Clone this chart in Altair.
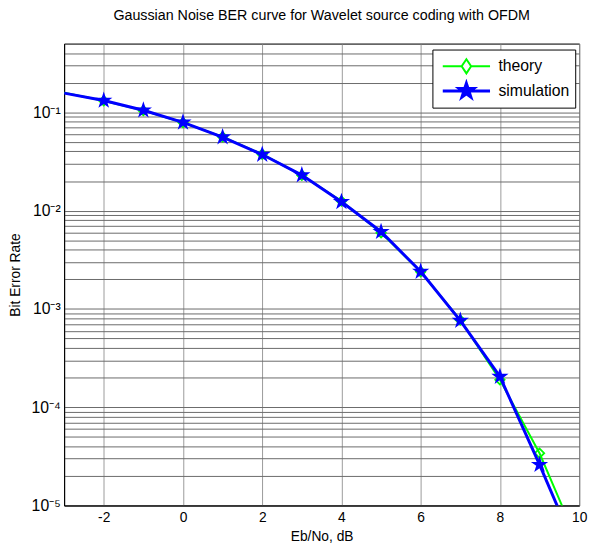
import altair as alt
import pandas as pd

# ---------------- data ----------------
ebno_db = [-3, -2, -1, 0, 1, 2, 3, 4, 5, 6, 7, 8, 9, 10]
ber_theory = [0.158, 0.131, 0.104, 0.0786, 0.0563, 0.0375, 0.0229, 0.0125,
              0.00595, 0.00239, 0.00077, 0.00019, 3.4e-5, 3.9e-6]
ber_simulation = [0.157, 0.132, 0.105, 0.0790, 0.0560, 0.0372, 0.0230, 0.0123,
                  0.0061, 0.0024, 0.00076, 0.000205, 2.6e-5, 3.0e-6]
series_names = ["theory", "simulation"]
marker_x_min, marker_x_max = -2, 9

x_tick_values = [-2, 0, 2, 4, 6, 8, 10]
y_decades = [1e-5, 1e-4, 1e-3, 1e-2, 1e-1]
y_decade_labels = ["10⁻⁵", "10⁻⁴", "10⁻³", "10⁻²", "10⁻¹"]
y_top = 0.5

title_text = "Gaussian Noise BER curve for Wavelet source coding with OFDM"
x_title = "Eb/No, dB"
y_title = "Bit Error Rate"

# ---------------- styling ----------------
FONT = "Liberation Sans"
GREEN = "#00ff00"
BLUE = "#0000ff"
STAR = ("M0,-1L0.2245,-0.309L0.951,-0.309L0.363,0.118L0.588,0.809L0,0.382"
        "L-0.588,0.809L-0.363,0.118L-0.951,-0.309L-0.2245,-0.309Z")
LEG_THEORY = "M-1,0H-0.2M0.2,0H1M0,-0.3L0.2,0L0,0.3L-0.2,0Z"
LEG_SIM = ("M-1,0H1M0,-0.32L0.0718,-0.099L0.304,-0.099L0.116,0.038L0.188,0.259"
           "L0,0.122L-0.188,0.259L-0.116,0.038L-0.304,-0.099L-0.0718,-0.099Z")

df_theory = pd.DataFrame({"x": ebno_db, "ber": ber_theory, "series": "theory"})
df_sim = pd.DataFrame({"x": ebno_db, "ber": ber_simulation, "series": "simulation"})
df_all = pd.concat([df_theory, df_sim], ignore_index=True)

# y grid values: decades plus minor 2..9 multiples
y_grid = []
for d in y_decades:
    for m in range(1, 10):
        v = m * d
        if v <= y_top + 1e-12:
            y_grid.append(v)
label_expr = "".join(f"datum.value == {d} ? '{lab}' : " for d, lab in zip(y_decades, y_decade_labels)) + "''"

x_enc = alt.X(
    "x:Q",
    scale=alt.Scale(domain=[-3, 10], nice=False, zero=False),
    axis=alt.Axis(values=x_tick_values, labelExpr="'' + datum.value", title=x_title,
                  grid=True, gridColor="#9a9a9a",
                  gridWidth=1, ticks=False, labelPadding=5, titlePadding=6,
                  labelFlush=False, labelFont=FONT, labelFontSize=14, titleFont=FONT,
                  titleFontSize=14, titleFontWeight="normal", labelColor="black",
                  titleColor="black", domainColor="black"),
)
y_enc = alt.Y(
    "ber:Q",
    scale=alt.Scale(type="log", domain=[y_decades[0], y_top], nice=False),
    axis=alt.Axis(values=y_grid, labelExpr=label_expr, title=y_title, grid=True,
                  gridColor="#6a6a6a", gridWidth=1, ticks=False, labelPadding=4,
                  titlePadding=9, labelOverlap=False, labelFont=FONT, labelFontSize=16,
                  titleFont=FONT, titleFontSize=14, titleFontWeight="normal",
                  labelColor="black", titleColor="black", domainColor="black"),
)

in_markers = f"datum.x >= {marker_x_min} && datum.x <= {marker_x_max}"

theory_line = alt.Chart(df_theory).mark_line(color=GREEN, strokeWidth=2, clip=True).encode(x=x_enc, y=y_enc)
theory_pts = alt.Chart(df_theory).transform_filter(in_markers).mark_point(
    shape="diamond", filled=False, color=GREEN, strokeWidth=1.8, size=90, clip=True, opacity=1
).encode(x=x_enc, y=y_enc)
sim_line = alt.Chart(df_sim).mark_line(color=BLUE, strokeWidth=3, clip=True).encode(x=x_enc, y=y_enc)
sim_pts = alt.Chart(df_sim).transform_filter(in_markers).mark_point(
    shape=STAR, filled=True, color=BLUE, size=340, clip=True, opacity=1
).encode(x=x_enc, y=y_enc)

legend = alt.Legend(
    title=None, orient="none", legendX=374, legendY=6, clipHeight=24, rowPadding=1,
    symbolSize=2304, padding=5, symbolOffset=4, labelOffset=7,
    labelFont=FONT, labelFontSize=16, labelColor="black",
    strokeColor="black", fillColor="white", cornerRadius=0, symbolOpacity=1,
)
legend_layer = alt.Chart(df_all).transform_filter("false").mark_point(filled=True, opacity=1).encode(
    stroke=alt.Stroke("series:N", scale=alt.Scale(domain=series_names, range=[GREEN, BLUE]), legend=legend),
    fill=alt.Fill("series:N", scale=alt.Scale(domain=series_names, range=["white", BLUE])),
    shape=alt.Shape("series:N", scale=alt.Scale(domain=series_names, range=[LEG_THEORY, LEG_SIM])),
    strokeWidth=alt.StrokeWidth("series:N", scale=alt.Scale(domain=series_names, range=[2, 3])),
)

chart = alt.layer(theory_line, theory_pts, sim_line, sim_pts, legend_layer).properties(
    width=523, height=469,
    title=alt.TitleParams(title_text, font=FONT, fontSize=14.5, fontWeight="normal",
                          color="black", offset=12, anchor="middle"),
    autosize=alt.AutoSizeParams(type="none"),
    padding={"left": 57, "top": 32, "right": 10, "bottom": 40},
).configure_view(stroke="black", strokeWidth=1)

chart.save("out.html", embed_options={"renderer": "svg", "actions": False})
